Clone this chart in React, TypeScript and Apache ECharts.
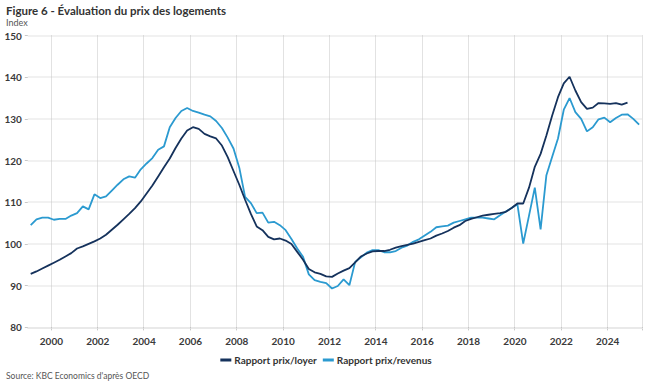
import React, { useEffect, useRef } from "react";
import * as echarts from "echarts";

const startYear = 1999;
const quarterCount = 106;
const quarters: string[] = [];
for (let i = 0; i < quarterCount; i++) {
  quarters.push(`${startYear + Math.floor(i / 4)}Q${(i % 4) + 1}`);
}

const yTicks = { min: 80, max: 150, interval: 10 };

const prixLoyer = [
  92.8, 93.4, 94.1, 94.8, 95.5, 96.2, 97.0, 97.8, 98.9, 99.4,
  100.0, 100.6, 101.3, 102.2, 103.4, 104.6, 105.9, 107.2, 108.6, 110.2,
  112.1, 114.0, 116.2, 118.4, 120.5, 123.0, 125.3, 127.2, 128.0, 127.6,
  126.4, 125.8, 125.3, 123.6, 120.8, 117.5, 114.2, 110.6, 107.2, 104.2,
  103.3, 101.7, 101.1, 101.3, 100.8, 100.0, 98.1, 96.2, 94.0, 93.2,
  92.8, 92.2, 92.1, 92.9, 93.6, 94.2, 95.6, 97.0, 97.7, 98.2,
  98.3, 98.3, 98.6, 99.1, 99.5, 99.8, 100.1, 100.5, 100.9, 101.3,
  102.0, 102.5, 103.1, 103.9, 104.5, 105.5, 106.0, 106.4, 106.8, 107.0,
  107.2, 107.4, 107.7, 108.6, 109.7, 109.7, 113.5, 118.5, 121.6, 126.0,
  130.8, 135.2, 138.5, 140.1, 136.8, 134.0, 132.4, 132.7, 133.8, 133.7,
  133.6, 133.8, 133.4, 133.9,
];

const prixRevenus = [
  104.5, 105.9, 106.3, 106.3, 105.8, 106.0, 106.0, 106.8, 107.4, 109.0,
  108.3, 111.9, 111.0, 111.4, 112.8, 114.2, 115.5, 116.2, 115.9, 117.9,
  119.3, 120.6, 122.6, 123.4, 128.0, 130.2, 131.9, 132.6, 131.9, 131.5,
  131.0, 130.6, 129.5, 127.8, 125.5, 122.9, 118.3, 111.3, 109.8, 107.4,
  107.5, 105.1, 105.3, 104.5, 103.3, 101.2, 98.9, 96.9, 92.7, 91.3,
  90.9, 90.6, 89.3, 89.9, 91.5, 90.1, 95.7, 96.8, 97.9, 98.5,
  98.5, 98.0, 98.0, 98.3, 99.1, 99.6, 100.5, 101.1, 102.0, 102.9,
  104.0, 104.2, 104.4, 105.1, 105.5, 105.9, 106.3, 106.3, 106.3, 106.1,
  105.9, 106.9, 107.8, 108.6, 109.5, 100.1, 106.8, 113.5, 103.5, 116.5,
  120.9, 125.3, 132.2, 135.0, 131.6, 130.0, 127.0, 128.0, 129.9, 130.3,
  129.2, 130.2, 131.0, 131.1, 130.0, 128.6,
];

const seriesNames = ["Rapport prix/loyer", "Rapport prix/revenus"];
const colors = ["#15325c", "#2b9ad0"];

const FONT = "Lato, 'Open Sans', sans-serif";

export default function App() {
  const ref = useRef<HTMLDivElement>(null);
  useEffect(() => {
    if (!ref.current) return;
    const chart = echarts.init(ref.current, null, { renderer: "svg" });
    const yearTick = (i: number) => i % 8 === 4;
    chart.setOption({
      animation: false,
      backgroundColor: "#ffffff",
      textStyle: { fontFamily: FONT },
      title: [
        {
          text: "Figure 6 - Évaluation du prix des logements",
          left: 6,
          top: 4,
          padding: 0,
          textStyle: { fontFamily: FONT, fontSize: 11.5, fontWeight: "bold", color: "#333333" },
        },
        {
          text: "Index",
          left: 6,
          top: 18,
          padding: 0,
          textStyle: { fontFamily: FONT, fontSize: 9, fontWeight: "normal", color: "#555555" },
        },
        {
          text: "Source: KBC Economics d'après OECD",
          left: 6,
          top: 371,
          padding: 0,
          textStyle: { fontFamily: FONT, fontSize: 8.5, fontWeight: "normal", color: "#555555" },
        },
      ],
      legend: {
        top: 350,
        left: "center",
        itemWidth: 11,
        itemHeight: 3,
        itemGap: 6,
        icon: "rect",
        textStyle: { fontFamily: FONT, fontSize: 10, fontWeight: "bold", color: "#333333", padding: [0, 0, 0, -2] },
        data: seriesNames,
      },
      grid: { left: 27.8, right: 10, top: 35.5, bottom: 60.7, containLabel: false },
      xAxis: {
        type: "category",
        data: quarters,
        boundaryGap: true,
        axisLine: { show: true, lineStyle: { color: "#e6e6e6", width: 1.5 } },
        axisTick: {
          show: true,
          interval: (i: number) => yearTick(i),
          length: 4,
          lineStyle: { color: "#b5b5b5", type: "dotted" },
        },
        axisLabel: {
          interval: (i: number) => yearTick(i),
          formatter: (v: string) => v.slice(0, 4),
          fontFamily: FONT,
          fontSize: 10,
          fontWeight: "bold",
          color: "#3a3a3a",
          margin: 9,
          padding: [0, 5, 0, 0],
        },
        splitLine: {
          show: true,
          interval: (i: number) => yearTick(i),
          lineStyle: { color: "#c4c4c4", type: "dotted", width: 1 },
        },
      },
      yAxis: {
        type: "value",
        min: yTicks.min,
        max: yTicks.max,
        interval: yTicks.interval,
        axisLine: { show: false },
        axisTick: { show: true, length: 3, lineStyle: { color: "#c8c8c8" } },
        axisLabel: {
          fontFamily: FONT,
          fontSize: 10,
          fontWeight: "bold",
          color: "#3a3a3a",
          margin: 6,
        },
        splitLine: { show: true, lineStyle: { color: "#ececec", width: 1.5 } },
      },
      series: [
        {
          name: seriesNames[0],
          type: "line",
          data: prixLoyer,
          showSymbol: false,
          symbol: "none",
          lineStyle: { color: colors[0], width: 1.8 },
          itemStyle: { color: colors[0] },
          z: 3,
        },
        {
          name: seriesNames[1],
          type: "line",
          data: prixRevenus,
          showSymbol: false,
          symbol: "none",
          lineStyle: { color: colors[1], width: 1.8 },
          itemStyle: { color: colors[1] },
          z: 2,
        },
      ],
    });
    return () => chart.dispose();
  }, []);
  return <div ref={ref} style={{ width: 652, height: 388, position: "absolute", left: 0, top: 0 }} />;
}
